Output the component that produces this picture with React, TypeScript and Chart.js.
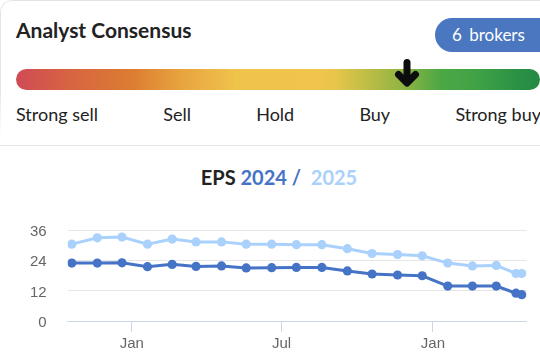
import React, { useEffect, useRef } from "react";
import { Chart, registerables } from "chart.js";

Chart.register(...registerables);

const dates = [
  "2023-10-20", "2023-11-20", "2023-12-20", "2024-01-20", "2024-02-19",
  "2024-03-19", "2024-04-19", "2024-05-19", "2024-06-19", "2024-07-19",
  "2024-08-19", "2024-09-19", "2024-10-19", "2024-11-19", "2024-12-19",
  "2025-01-19", "2025-02-18", "2025-03-19", "2025-04-12", "2025-04-19",
];
const eps2024 = [22.9, 22.9, 23.0, 21.5, 22.4, 21.6, 21.8, 21.0, 21.1, 21.2, 21.2, 19.8, 18.6, 18.2, 17.9, 13.8, 13.8, 13.8, 11.0, 10.4];
const eps2025 = [30.4, 32.9, 33.2, 30.4, 32.4, 31.3, 31.3, 30.4, 30.4, 30.2, 30.2, 28.6, 26.7, 26.3, 25.8, 22.9, 21.8, 22.0, 18.8, 18.8];
const xTickDates = ["2024-01-01", "2024-07-01", "2025-01-01"];
const xTickLabels = ["Jan", "Jul", "Jan"];
const xRange = ["2023-10-15", "2025-04-25"];
const yTicks = [0, 12, 24, 36];
const ratingLabels = ["Strong sell", "Sell", "Hold", "Buy", "Strong buy"];
const brokerCount = 6;

const DARK = "#4573c6";
const LIGHT = "#a9d1fc";

const t = (s: string) => Date.parse(s + "T00:00:00Z");

function EpsChart() {
  const ref = useRef<HTMLCanvasElement | null>(null);
  useEffect(() => {
    if (!ref.current) return;
    const tickFont = { family: "'Liberation Sans', Arial, sans-serif", size: 15 };
    const chart = new Chart(ref.current, {
      type: "line",
      data: {
        datasets: [
          {
            label: "2024",
            data: dates.map((d, i) => ({ x: t(d), y: eps2024[i] })),
            borderColor: DARK,
            backgroundColor: DARK,
            borderWidth: 3,
            pointRadius: 4.6,
            pointBorderWidth: 0,
            pointBackgroundColor: DARK,
            tension: 0,
          },
          {
            label: "2025",
            data: dates.map((d, i) => ({ x: t(d), y: eps2025[i] })),
            borderColor: LIGHT,
            backgroundColor: LIGHT,
            borderWidth: 3,
            pointRadius: 4.6,
            pointBorderWidth: 0,
            pointBackgroundColor: LIGHT,
            tension: 0,
          },
        ],
      },
      options: {
        animation: false,
        responsive: false,
        devicePixelRatio: 1,
        layout: { padding: { top: 13, right: 13.3, left: 0, bottom: 0 } },
        plugins: { legend: { display: false }, tooltip: { enabled: false }, title: { display: false } },
        scales: {
          x: {
            type: "linear",
            min: t(xRange[0]),
            max: t(xRange[1]),
            afterBuildTicks: (axis: any) => {
              axis.ticks = xTickDates.map((d) => ({ value: t(d) }));
            },
            afterFit: (scale: any) => {
              scale.height = 38;
            },
            ticks: {
              color: "#666666",
              font: tickFont,
              padding: 3,
              maxRotation: 0,
              autoSkip: false,
              callback: (v: any) => {
                const idx = xTickDates.findIndex((d) => t(d) === v);
                return idx >= 0 ? xTickLabels[idx] : "";
              },
            },
            grid: { drawOnChartArea: false, drawTicks: true, tickLength: 11, color: "#ccd6eb", lineWidth: 1 },
            border: { display: true, color: "#ccd6eb", width: 1 },
          },
          y: {
            min: 0,
            max: 36,
            afterBuildTicks: (axis: any) => {
              axis.ticks = yTicks.map((v) => ({ value: v }));
            },
            afterFit: (scale: any) => {
              scale.width = 67.7;
            },
            ticks: {
              color: "#666666",
              font: tickFont,
              padding: 21,
              labelOffset: 2,
              callback: (v: any) => String(v),
            },
            grid: {
              drawTicks: false,
              color: (ctx: any) => (ctx.tick && ctx.tick.value === 0 ? "#ccd6eb" : "#e6e6e6"),
              lineWidth: 1,
            },
            border: { display: false },
          },
        },
      },
    });
    return () => chart.destroy();
  }, []);
  return <canvas ref={ref} width={540} height={159} style={{ display: "block", width: 540, height: 159 }} />;
}

export default function App() {
  const lato = "Lato, 'Noto Sans', sans-serif";
  return (
    <div
      style={{
        position: "fixed",
        left: 0,
        top: 0,
        width: 540,
        height: 359,
        overflow: "hidden",
        background: "#ffffff",
        fontFamily: lato,
      }}
    >
      {/* top card outline */}
      <div
        style={{
          position: "absolute",
          left: 0,
          top: 0,
          width: 600,
          height: 145,
          borderTop: "1px solid #e4e4e4",
          borderLeft: "1px solid #e4e4e4",
          borderTopLeftRadius: 12,
          boxSizing: "border-box",
          WebkitMaskImage: "linear-gradient(to bottom, #000 60%, transparent 95%)",
        }}
      />
      <div
        style={{
          position: "absolute",
          left: 16,
          top: 15,
          fontSize: 21,
          fontWeight: 700,
          color: "#222222",
          lineHeight: "30px",
          whiteSpace: "nowrap",
        }}
      >
        Analyst Consensus
      </div>
      <div
        style={{
          position: "absolute",
          left: 435,
          top: 18,
          width: 130,
          height: 34,
          borderRadius: 17,
          background: "#4a77c0",
          color: "#ffffff",
          fontSize: 17,
          lineHeight: "34px",
          paddingLeft: 17,
          boxSizing: "border-box",
          whiteSpace: "nowrap",
          wordSpacing: 3,
        }}
      >
        {brokerCount} brokers
      </div>
      {/* gradient bar */}
      <div
        style={{
          position: "absolute",
          left: 16,
          top: 69,
          width: 524,
          height: 21,
          borderRadius: 10.5,
          background:
            "linear-gradient(to right, #cf4b55 0%, #d8683f 12%, #dc7c31 22%, #e8a540 32%, #f0c34b 42%, #f0c54b 58%, #e7c54b 61%, #b7bc45 68%, #8fb443 74%, #4ca845 81%, #40a246 88%, #2d9245 95%, #238a44 100%)",
        }}
      />
      <svg
        style={{ position: "absolute", left: 0, top: 0 }}
        width={540}
        height={100}
        viewBox="0 0 540 100"
      >
        <line x1={407} y1={62.5} x2={407} y2={82} stroke="#0d0d0d" strokeWidth={7} strokeLinecap="round" />
        <polyline
          points="398.5,74.5 407,83 415.5,74.5"
          fill="none"
          stroke="#0d0d0d"
          strokeWidth={7}
          strokeLinecap="round"
          strokeLinejoin="round"
        />
      </svg>
      <div
        style={{
          position: "absolute",
          left: 16,
          top: 101,
          width: 525,
          display: "flex",
          justifyContent: "space-between",
          fontSize: 18,
          color: "#222222",
          lineHeight: "26px",
          whiteSpace: "nowrap",
        }}
      >
        {ratingLabels.map((l) => (
          <span key={l}>{l}</span>
        ))}
      </div>
      <div style={{ position: "absolute", left: 0, top: 145, width: 540, height: 1, background: "#e4e4e4" }} />
      {/* chart title */}
      <div
        style={{
          position: "absolute",
          left: 0,
          top: 163,
          width: 558,
          textAlign: "center",
          fontSize: 20,
          fontWeight: 700,
          lineHeight: "28px",
          whiteSpace: "nowrap",
        }}
      >
        <span style={{ color: "#222222" }}>EPS </span>
        <span style={{ color: DARK }}>2024 / </span>
        <span style={{ color: LIGHT }}>&nbsp;2025</span>
      </div>
      <div style={{ position: "absolute", left: 0, top: 200 }}>
        <EpsChart />
      </div>
    </div>
  );
}
